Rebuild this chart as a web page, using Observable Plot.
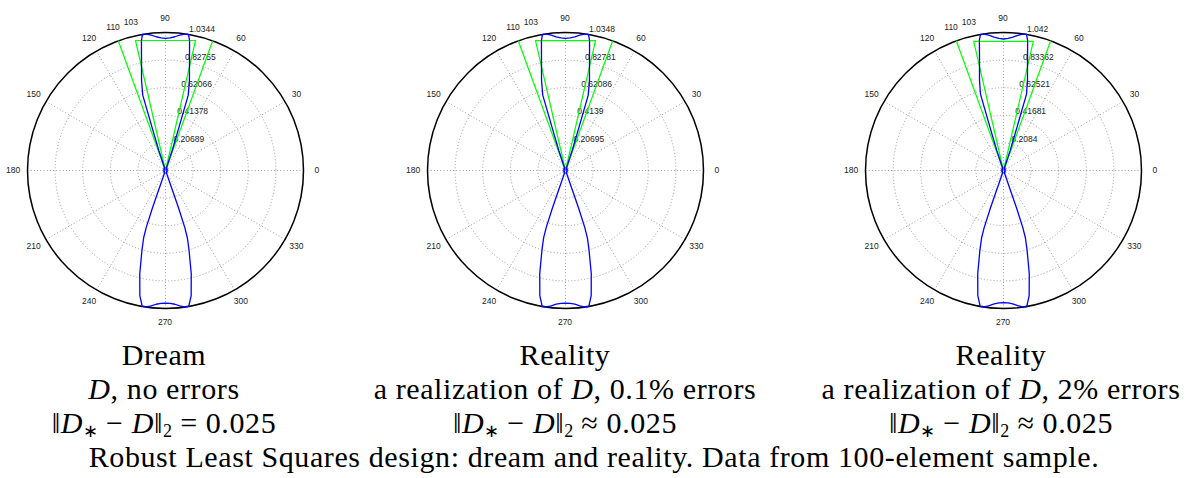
<!DOCTYPE html>
<html>
<head>
<meta charset="utf-8">
<script src="https://cdn.jsdelivr.net/npm/d3@7"></script>
<script src="https://cdn.jsdelivr.net/npm/@observablehq/plot@0.6"></script>
<style>
  html, body { margin: 0; padding: 0; background: #fff; }
  #wrap { position: relative; width: 1186px; height: 478px; overflow: hidden; }
  .panel { position: absolute; top: 0; }
  .cap { position: absolute; text-align: center; font-family: "Liberation Serif", serif; font-size: 30px; line-height: 34px; letter-spacing: 0.6px; color: #000; white-space: nowrap; transform: translateX(-50%); }
  .sub { font-size: 0.6em; position: relative; top: 0.22em; line-height: 0; letter-spacing: 0; }
  i { font-style: italic; }
</style>
</head>
<body>
<div id="wrap"></div>
<script>
// ---------- data ----------
const angleTicks = [0, 30, 60, 90, 103, 110, 120, 150, 180, 210, 240, 270, 300, 330];
const spokeAngles = [0, 30, 60, 90, 120, 150];
const rTicksDream = [0.20689, 0.41378, 0.62066, 0.82755, 1.0344];
const rTicksReal1 = [0.20695, 0.4139, 0.62086, 0.82781, 1.0348];
const rTicksReal2 = [0.2084, 0.41681, 0.62521, 0.83362, 1.042];

// desired response (green): pass band edges and stop band edges, degrees
const passEdges = [77, 103];
const stopEdges = [70, 110];
const passLevel = 1.0;

// beam pattern (blue)
const beamAngles = [0, 20, 40, 55, 62, 66, 70, 71.5, 72.5, 73.2, 75.1, 77.7, 79.5, 80.4, 82, 84, 86, 88, 90, 92, 94, 96, 98, 99.6, 100.5, 102.3, 104.9, 106.8, 107.5, 108.5, 110, 114, 118, 125, 140, 160, 180, 200, 220, 232, 240, 246, 249, 250.8, 251.3, 252, 253.5, 256, 258.4, 260.3, 262, 264, 266, 268, 270, 272, 274, 276, 278, 279.7, 281.6, 284, 286.5, 288, 288.7, 289.2, 291, 294, 300, 308, 320, 340, 360];
const beamDream = [0.01, 0.015, 0.01, 0.02, 0.015, 0.02, 0.02, 0.16, 0.29, 0.59, 0.698, 0.844, 0.99, 1.034, 1.032, 1.02, 1.005, 0.995, 0.99, 0.995, 1.005, 1.02, 1.032, 1.034, 0.99, 0.844, 0.698, 0.59, 0.29, 0.16, 0.02, 0.02, 0.015, 0.02, 0.01, 0.015, 0.01, 0.015, 0.01, 0.015, 0.02, 0.015, 0.02, 0.3, 0.45, 0.53, 0.62, 0.798, 0.957, 1.034, 1.032, 1.02, 1.005, 0.997, 0.995, 0.997, 1.005, 1.02, 1.032, 1.034, 0.957, 0.798, 0.62, 0.53, 0.45, 0.3, 0.02, 0.015, 0.02, 0.015, 0.01, 0.015, 0.01];
const beamReal1 = [0.01, 0.015, 0.01, 0.02, 0.015, 0.02, 0.02, 0.16, 0.29, 0.59, 0.699, 0.845, 0.99, 1.0348, 1.032, 1.02, 1.005, 0.995, 0.99, 0.995, 1.005, 1.02, 1.032, 1.0348, 0.99, 0.845, 0.699, 0.59, 0.29, 0.16, 0.02, 0.02, 0.015, 0.02, 0.01, 0.015, 0.01, 0.015, 0.01, 0.015, 0.02, 0.015, 0.02, 0.3, 0.45, 0.531, 0.621, 0.799, 0.958, 1.0348, 1.032, 1.02, 1.005, 0.997, 0.995, 0.997, 1.005, 1.02, 1.032, 1.0348, 0.958, 0.799, 0.621, 0.531, 0.45, 0.3, 0.02, 0.015, 0.02, 0.015, 0.01, 0.015, 0.01];
const beamReal2 = [0.01, 0.015, 0.01, 0.02, 0.015, 0.02, 0.02, 0.16, 0.3, 0.60, 0.705, 0.85, 1.0, 1.042, 1.04, 1.026, 1.01, 0.998, 0.993, 0.998, 1.01, 1.026, 1.04, 1.042, 1.0, 0.85, 0.705, 0.60, 0.3, 0.16, 0.02, 0.02, 0.015, 0.02, 0.01, 0.015, 0.01, 0.015, 0.01, 0.015, 0.02, 0.015, 0.02, 0.3, 0.455, 0.536, 0.627, 0.805, 0.964, 1.042, 1.04, 1.026, 1.01, 1.0, 0.998, 1.0, 1.01, 1.026, 1.04, 1.042, 0.964, 0.805, 0.627, 0.536, 0.455, 0.3, 0.02, 0.015, 0.02, 0.015, 0.01, 0.015, 0.01];

const normLine = (rel) => "‖<i>D</i><span class='sub'>∗</span> − <i>D</i>‖<span class='sub'>2</span> " + rel + " 0.025";
const captions = [
  ["Dream", "<i>D</i>, no errors", normLine("=")],
  ["Reality", "a realization of <i>D</i>, 0.1% errors", normLine("≈")],
  ["Reality", "a realization of <i>D</i>, 2% errors", normLine("≈")]
];
const footer = "Robust Least Squares design: dream and reality. Data from 100-element sample.";

// ---------- layout ----------
const panelLefts = [0, 400, 838];
const panelW = 330, panelH = 340;
const cx = 165, cy = 170, R = 138;

const rad = d => d * Math.PI / 180;

function polarPanel(rTicks, beam) {
  const rmax = rTicks[rTicks.length - 1];
  const rinc = rmax / 5;
  const beamData = beamAngles.map((a, i) => ({a, r: beam[i]}));
  const px = d => d.r * Math.cos(rad(d.a));
  const py = d => d.r * Math.sin(rad(d.a));
  const greenTri = [{a: passEdges[1], r: passLevel}, {a: 0, r: 0}, {a: passEdges[0], r: passLevel}, {a: passEdges[1], r: passLevel}];
  const greenOuter = stopEdges.map(a => ({a, r: rmax}));
  return Plot.plot({
    width: panelW, height: panelH,
    margin: 0,
    style: {overflow: "visible", background: "transparent"},
    x: {domain: [-rmax, rmax], range: [cx - R, cx + R], axis: null},
    y: {domain: [-rmax, rmax], range: [cy + R, cy - R], axis: null},
    r: {type: "linear", domain: [0, rmax], range: [0, R]},
    marks: [
      Plot.link(spokeAngles, {
        x1: a => -rmax * Math.cos(rad(a)), y1: a => -rmax * Math.sin(rad(a)),
        x2: a => rmax * Math.cos(rad(a)), y2: a => rmax * Math.sin(rad(a)),
        stroke: "#9a9a9a", strokeWidth: 1, strokeDasharray: "1,2.2"
      }),
      Plot.dot(rTicks.slice(0, 4), {x: 0, y: 0, r: d => d, fill: "none", stroke: "#9a9a9a", strokeWidth: 1, strokeDasharray: "1,2.2"}),
      Plot.dot([rmax], {x: 0, y: 0, r: d => d, fill: "none", stroke: "#000", strokeWidth: 1.5}),
      Plot.text(rTicks, {
        x: d => (d + rinc / 20) * Math.cos(rad(82)),
        y: d => (d + rinc / 20) * Math.sin(rad(82)),
        text: d => String(d), textAnchor: "start", lineAnchor: "bottom", dx: 4,
        fontSize: 8.5, fill: "#222", fontFamily: "Liberation Sans, Arial, sans-serif"
      }),
      Plot.text(angleTicks, {
        x: a => 1.1 * rmax * Math.cos(rad(a)),
        y: a => 1.1 * rmax * Math.sin(rad(a)),
        text: a => String(a), dx: a => a === 110 ? -6 : 0, dy: a => a === 110 ? -2 : 0,
        fontSize: 8.5, fill: "#222", fontFamily: "Liberation Sans, Arial, sans-serif"
      }),
      Plot.line(greenTri, {x: px, y: py, stroke: "#00ff00", strokeWidth: 1.2}),
      Plot.link(greenOuter, {x1: 0, y1: 0, x2: px, y2: py, stroke: "#00ff00", strokeWidth: 1.2}),
      Plot.line(beamData, {x: px, y: py, stroke: "#0000ff", strokeWidth: 1.3, curve: "linear"})
    ]
  });
}

const wrap = document.getElementById("wrap");
const sets = [[rTicksDream, beamDream], [rTicksReal1, beamReal1], [rTicksReal2, beamReal2]];
sets.forEach(([t, b], i) => {
  const div = document.createElement("div");
  div.className = "panel";
  div.style.left = panelLefts[i] + "px";
  div.appendChild(polarPanel(t, b));
  wrap.appendChild(div);
});

const capCenters = [164, 565, 1001];
captions.forEach((lines, i) => {
  const div = document.createElement("div");
  div.className = "cap";
  div.style.left = capCenters[i] + "px";
  div.style.top = "338px";
  div.innerHTML = lines.join("<br>");
  wrap.appendChild(div);
});
const foot = document.createElement("div");
foot.className = "cap";
foot.style.left = "594px";
foot.style.top = "440px";
foot.textContent = footer;
wrap.appendChild(foot);
</script>
</body>
</html>
